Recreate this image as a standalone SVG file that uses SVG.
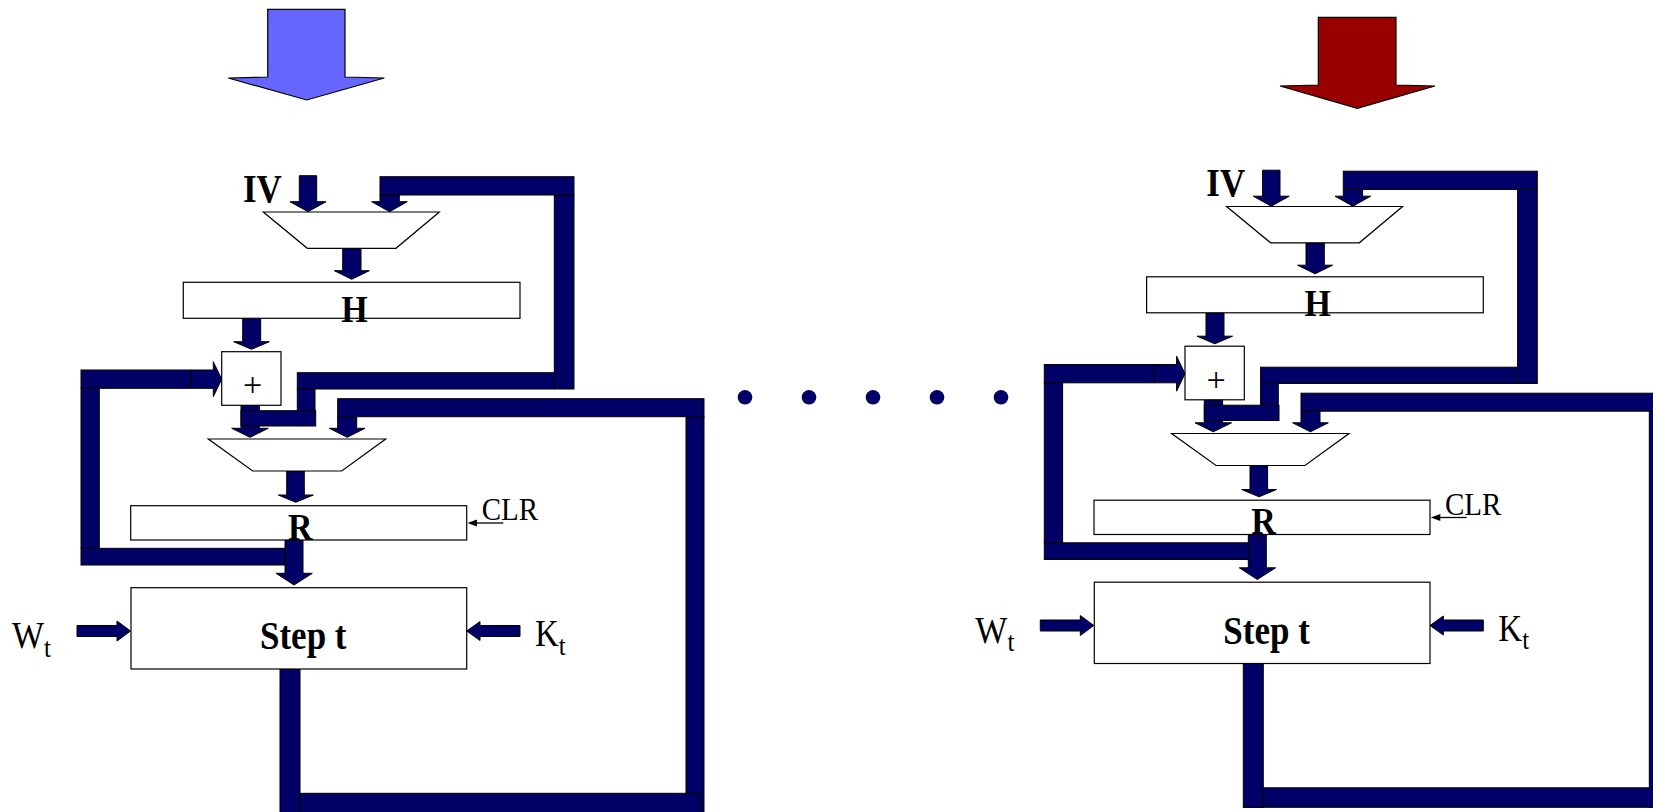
<svg xmlns="http://www.w3.org/2000/svg" width="1653" height="812" viewBox="0 0 1653 812">
<style>
.bar{fill:#000066;stroke:#000;stroke-width:1}
.box{fill:#fff;stroke:#000;stroke-width:1.2}
.t{font-family:"Liberation Serif","Times New Roman",serif;fill:#000}
.b{font-weight:bold}
.thin{stroke:#000;stroke-width:1.3;fill:none}
</style>
<defs>
<g id="conn">
<polygon class="bar" points="299.3,175.7 316.7,175.7 316.7,201.7 326,201.7 308,211.7 290,201.7 299.3,201.7"/>
<rect class="bar" x="380" y="176.7" width="194" height="18.3"/>
<rect class="bar" x="554.3" y="195" width="19.7" height="194"/>
<polygon class="bar" points="380,195 399.3,195 399.3,201.7 407.3,201.7 389.6,211.7 371.7,201.7 380,201.7"/>
<rect class="bar" x="297.3" y="372.7" width="257" height="16.3"/>
<polygon class="bar" points="241,405.3 259.3,405.3 259.3,428.3 268.3,428.3 250,437.3 231.7,428.3 241,428.3"/>
<rect class="bar" x="297.3" y="389" width="17.7" height="24.3"/>
<rect class="bar" x="241" y="410.7" width="74.7" height="15.3"/>
<polygon class="bar" points="242.7,318.3 260.7,318.3 260.7,341.7 269.3,341.7 251.5,349.3 233.7,341.7 242.7,341.7"/>
<polygon class="bar" points="342.7,248.3 361,248.3 361,270.7 369.3,270.7 351.8,279.3 334.3,270.7 342.7,270.7"/>
<rect class="bar" x="81" y="370" width="110" height="18.3"/>
<polygon class="bar" points="191,370 213.3,370 213.3,361.7 221.7,379.2 213.3,396.7 213.3,388.3 191,388.3"/>
<rect class="bar" x="81" y="388.3" width="18.3" height="160"/>
<rect class="bar" x="81" y="548.3" width="204" height="16.7"/>
<polygon class="bar" points="285,540 303,540 303,573.3 312.3,573.3 294,585 276,573.3 285,573.3"/>
<polygon class="bar" points="286.7,471 304.3,471 304.3,495 313.3,495 295.8,502.3 278.3,495 286.7,495"/>
<rect class="bar" x="337.7" y="398.7" width="366.3" height="18"/>
<rect class="bar" x="686" y="416.7" width="18" height="396"/>
<rect class="bar" x="280" y="669" width="20" height="144"/>
<rect class="bar" x="300" y="793.3" width="400" height="19.5"/>
<polygon class="bar" points="337.7,416.7 356.7,416.7 356.7,428.3 365,428.3 347.2,437.3 329.3,428.3 337.7,428.3"/>
<polygon class="bar" points="77,625.5 117,625.5 117,621 130.5,631 117,641 117,636.5 77,636.5"/>
<polygon class="bar" points="520,625.5 480,625.5 480,621.5 466.7,631 480,640.5 480,636.5 520,636.5"/>
<line class="thin" x1="503.3" y1="523" x2="476" y2="523"/>
<polygon points="467.5,523 477,519.5 477,526.5" fill="#000"/>
</g>
</defs>
<g id="connectors">
<use href="#conn"/>
<use href="#conn" transform="translate(963.3,-5.5)"/>
</g>
<g id="input-arrow-blue">
<polygon points="267.7,9.3 345,9.3 345,77 384.3,78 306.7,100 228.3,78 267.7,77" fill="#6666FF" stroke="#000" stroke-width="1.2"/>
</g>
<g id="input-arrow-red">
<polygon points="1318.3,17.3 1396,17.3 1396,85 1435,86 1357.3,108.3 1280,86 1318.3,85" fill="#990000" stroke="#000" stroke-width="1.2"/>
</g>
<g id="dots" fill="#000066">
<circle cx="745" cy="397.3" r="7.3"/>
<circle cx="809" cy="397.3" r="7.3"/>
<circle cx="873" cy="397.3" r="7.3"/>
<circle cx="937" cy="397.3" r="7.3"/>
<circle cx="1001" cy="397.3" r="7.3"/>
</g>
<g id="left-iv"><text class="t b" transform="translate(243,201.5) scale(1,1.12)" font-size="35">IV</text></g>
<g id="left-mux1"><polygon class="box" points="263.3,212 439.3,212 396,248.3 307.3,248.3"/></g>
<g id="left-h"><rect class="box" x="183.3" y="282.3" width="336.7" height="36"/><text class="t b" transform="translate(354.5,321.5) scale(1,1.12)" font-size="34" text-anchor="middle">H</text></g>
<g id="left-add"><rect class="box" x="221.7" y="351.7" width="59.3" height="53.6"/><text class="t" x="252.7" y="396" font-size="34" text-anchor="middle">+</text></g>
<g id="left-mux2"><polygon class="box" points="208.3,439 385.7,439 341.7,471 252.7,471"/></g>
<g id="left-r"><rect class="box" x="130.7" y="505.7" width="336" height="34.3"/><text class="t b" transform="translate(300.3,539.5) scale(1,1.12)" font-size="34" text-anchor="middle">R</text></g>
<g id="left-clr"><text class="t" transform="translate(481.7,520) scale(1,1.12)" font-size="29">CLR</text></g>
<g id="left-step"><rect class="box" x="131" y="587.7" width="335.7" height="81.3"/><text class="t b" transform="translate(260,649) scale(1,1.12)" font-size="35">Step t</text></g>
<g id="left-wt"><text class="t" transform="translate(12,648) scale(1,1.12)" font-size="34">W<tspan font-size="25" dy="8">t</tspan></text></g>
<g id="left-kt"><text class="t" transform="translate(535,646) scale(1,1.12)" font-size="33">K<tspan font-size="25" dy="8">t</tspan></text></g>
<g id="right-iv" transform="translate(963.3,-5.5)"><text class="t b" transform="translate(243,201.5) scale(1,1.12)" font-size="35">IV</text></g>
<g id="right-mux1" transform="translate(963.3,-5.5)"><polygon class="box" points="263.3,212 439.3,212 396,248.3 307.3,248.3"/></g>
<g id="right-h" transform="translate(963.3,-5.5)"><rect class="box" x="183.3" y="282.3" width="336.7" height="36"/><text class="t b" transform="translate(354.5,321.5) scale(1,1.12)" font-size="34" text-anchor="middle">H</text></g>
<g id="right-add" transform="translate(963.3,-5.5)"><rect class="box" x="221.7" y="351.7" width="59.3" height="53.6"/><text class="t" x="252.7" y="396" font-size="34" text-anchor="middle">+</text></g>
<g id="right-mux2" transform="translate(963.3,-5.5)"><polygon class="box" points="208.3,439 385.7,439 341.7,471 252.7,471"/></g>
<g id="right-r" transform="translate(963.3,-5.5)"><rect class="box" x="130.7" y="505.7" width="336" height="34.3"/><text class="t b" transform="translate(300.3,539.5) scale(1,1.12)" font-size="34" text-anchor="middle">R</text></g>
<g id="right-clr" transform="translate(963.3,-5.5)"><text class="t" transform="translate(481.7,520) scale(1,1.12)" font-size="29">CLR</text></g>
<g id="right-step" transform="translate(963.3,-5.5)"><rect class="box" x="131" y="587.7" width="335.7" height="81.3"/><text class="t b" transform="translate(260,649) scale(1,1.12)" font-size="35">Step t</text></g>
<g id="right-wt" transform="translate(963.3,-5.5)"><text class="t" transform="translate(12,648) scale(1,1.12)" font-size="34">W<tspan font-size="25" dy="8">t</tspan></text></g>
<g id="right-kt" transform="translate(963.3,-5.5)"><text class="t" transform="translate(535,646) scale(1,1.12)" font-size="33">K<tspan font-size="25" dy="8">t</tspan></text></g>
</svg>
